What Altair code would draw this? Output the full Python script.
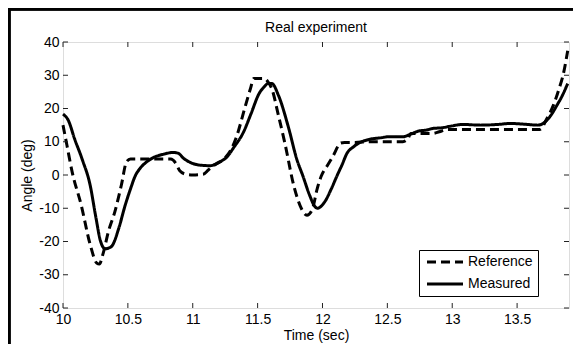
import altair as alt
import pandas as pd

# Reference (dashed) series
ref_t = [10.00, 10.03, 10.07, 10.14, 10.21, 10.26, 10.28, 10.31, 10.35, 10.40, 10.45, 10.49,
         10.52, 10.60, 10.70, 10.83, 10.87, 10.90, 10.95, 11.00, 11.08, 11.12, 11.16, 11.24,
         11.30, 11.34, 11.40, 11.445, 11.47, 11.55, 11.58, 11.61, 11.66, 11.71, 11.78, 11.84,
         11.88, 11.92, 11.96, 11.99, 12.04, 12.08, 12.14, 12.17, 12.25, 12.36, 12.50, 12.62,
         12.66, 12.68, 12.75, 12.85, 12.90, 12.96, 13.10, 13.30, 13.50, 13.675, 13.73, 13.78,
         13.82, 13.86, 13.89]
ref_v = [15, 9, 1, -9, -21, -26.5, -26.8, -23.5, -17, -11, -3, 4,
         4.8, 4.8, 4.8, 4.8, 3.5, 1.3, 0.2, 0, 0.2, 1.5, 2.8, 4.8,
         8, 11.8, 20, 26, 29, 29, 28, 25.9, 18, 9.6, -3.4, -10.3,
         -12.1, -10.5, -4, -0.4, 3, 5.6, 9.6, 9.8, 9.8, 10, 10, 10,
         11, 12.5, 12.5, 12.5, 13, 13.7, 13.7, 13.7, 13.7, 13.7, 17, 21,
         25.5, 31, 37.4]

# Measured (solid) series
meas_t = [10.00, 10.04, 10.09, 10.15, 10.21, 10.25, 10.29, 10.325, 10.35, 10.38, 10.43, 10.48,
          10.52, 10.56, 10.59, 10.64, 10.70, 10.78, 10.85, 10.89, 10.93, 10.98, 11.05, 11.135,
          11.20, 11.26, 11.32, 11.39, 11.45, 11.51, 11.55, 11.58, 11.61, 11.66, 11.74, 11.80,
          11.85, 11.90, 11.94, 11.96, 12.02, 12.07, 12.11, 12.15, 12.19, 12.24, 12.28, 12.36,
          12.45, 12.51, 12.62, 12.68, 12.74, 12.80, 12.85, 12.92, 12.99, 13.08, 13.22, 13.35,
          13.45, 13.55, 13.66, 13.70, 13.73, 13.77, 13.80, 13.85, 13.89]
meas_v = [18.3, 16.5, 10.8, 4.5, -3.2, -12, -20, -22.2, -22, -21.2, -16, -9,
          -4.2, 0, 1.8, 3.8, 5.3, 6.3, 6.8, 6.5, 5, 3.8, 3, 2.8,
          3.8, 5.3, 8.5, 12.8, 18.5, 24.4, 26.5, 27.5, 27.5, 24, 14, 5,
          -0.4, -6, -9.4, -10, -7.9, -4, -0.4, 3, 6.6, 8.5, 9.6, 10.7,
          11.2, 11.5, 11.5, 12.3, 13.2, 13.5, 14, 14.2, 14.7, 15.2, 15, 15.2,
          15.5, 15.3, 15, 15.5, 16.5, 18.5, 20.5, 24, 27.5]

series_names = ["Reference", "Measured"]
x_ticks = [10, 10.5, 11, 11.5, 12, 12.5, 13, 13.5]
y_ticks = [-40, -30, -20, -10, 0, 10, 20, 30, 40]

FONT = "Liberation Sans"
W, H = 506, 266

df = pd.concat([
    pd.DataFrame({"t": ref_t, "v": ref_v, "series": series_names[0], "o": range(len(ref_t))}),
    pd.DataFrame({"t": meas_t, "v": meas_v, "series": series_names[1], "o": range(len(meas_t))}),
])
xt = pd.DataFrame({"t": x_ticks})
yt = pd.DataFrame({"v": y_ticks})

xscale = alt.Scale(domain=[10, 13.9], nice=False, zero=False)
yscale = alt.Scale(domain=[-40, 40], nice=False, zero=False)
XT = "Time (sec)"
YT = "Angle (deg)"

common_axis = dict(labelExpr="toString(datum.value)", tickSize=0, domain=False, grid=False,
                   labelFontSize=14, titleFontSize=14, titleFontWeight="normal",
                   labelFont=FONT, titleFont=FONT, labelColor="black", titleColor="black",
                   labelFlush=False, labelOverlap=False)
xaxis = alt.Axis(values=x_ticks, labelPadding=4, titlePadding=2, **common_axis)
yaxis = alt.Axis(values=y_ticks, labelPadding=4, titlePadding=4, **common_axis)

X = lambda f: alt.X(f, scale=xscale, axis=xaxis, title=XT)
Y = lambda f: alt.Y(f, scale=yscale, axis=yaxis, title=YT)

lines = alt.Chart(df).mark_line(color="black", strokeWidth=3, interpolate="monotone").encode(
    x=X("t:Q"),
    y=Y("v:Q"),
    order="o:Q",
    strokeDash=alt.StrokeDash(
        "series:N",
        scale=alt.Scale(domain=series_names, range=[[9, 5], [1, 0]]),
        legend=alt.Legend(
            title=None, orient="none", legendX=356, legendY=208, direction="vertical",
            fillColor="white", strokeColor="black", padding=5, rowPadding=8,
            symbolType="M-1,0H8", symbolSize=64, symbolStrokeWidth=3,
            symbolStrokeColor="black", labelFontSize=14, labelFont=FONT,
            labelColor="black", labelOffset=30, labelLimit=200,
        ),
    ),
)

tick_color = "#222"
xb = alt.Chart(xt).mark_rule(color=tick_color, strokeWidth=1).encode(
    x=X("t:Q"), y=alt.value(H), y2=alt.value(H - 5))
xtp = alt.Chart(xt).mark_rule(color=tick_color, strokeWidth=1).encode(
    x=X("t:Q"), y=alt.value(0), y2=alt.value(5))
yl = alt.Chart(yt).mark_rule(color=tick_color, strokeWidth=1).encode(
    y=Y("v:Q"), x=alt.value(0), x2=alt.value(5))
yr = alt.Chart(yt).mark_rule(color=tick_color, strokeWidth=1).encode(
    y=Y("v:Q"), x=alt.value(W), x2=alt.value(W - 5))

# outer frame (top and left edges of the figure)
frame_top = alt.Chart(xt).mark_rule(color="black", strokeWidth=2.5).encode(
    x=alt.value(-55), x2=alt.value(W + 4), y=alt.value(-33))
frame_left = alt.Chart(xt).mark_rule(color="black", strokeWidth=2.5).encode(
    x=alt.value(-54), y=alt.value(-34), y2=alt.value(H + 36))

chart = alt.layer(lines, xb, xtp, yl, yr, frame_top, frame_left).properties(
    width=W, height=H,
    title=alt.TitleParams("Real experiment", fontSize=14, fontWeight="normal", font=FONT,
                          color="black", offset=5, dy=33, anchor="middle"),
    autosize=alt.AutoSizeParams(type="none"),
    padding={"left": 55, "top": 34, "right": 4, "bottom": 36},
).configure_view(stroke="#333", strokeWidth=1).configure(background="white")

chart.save("out.html", embed_options={"renderer": "svg", "actions": False})
